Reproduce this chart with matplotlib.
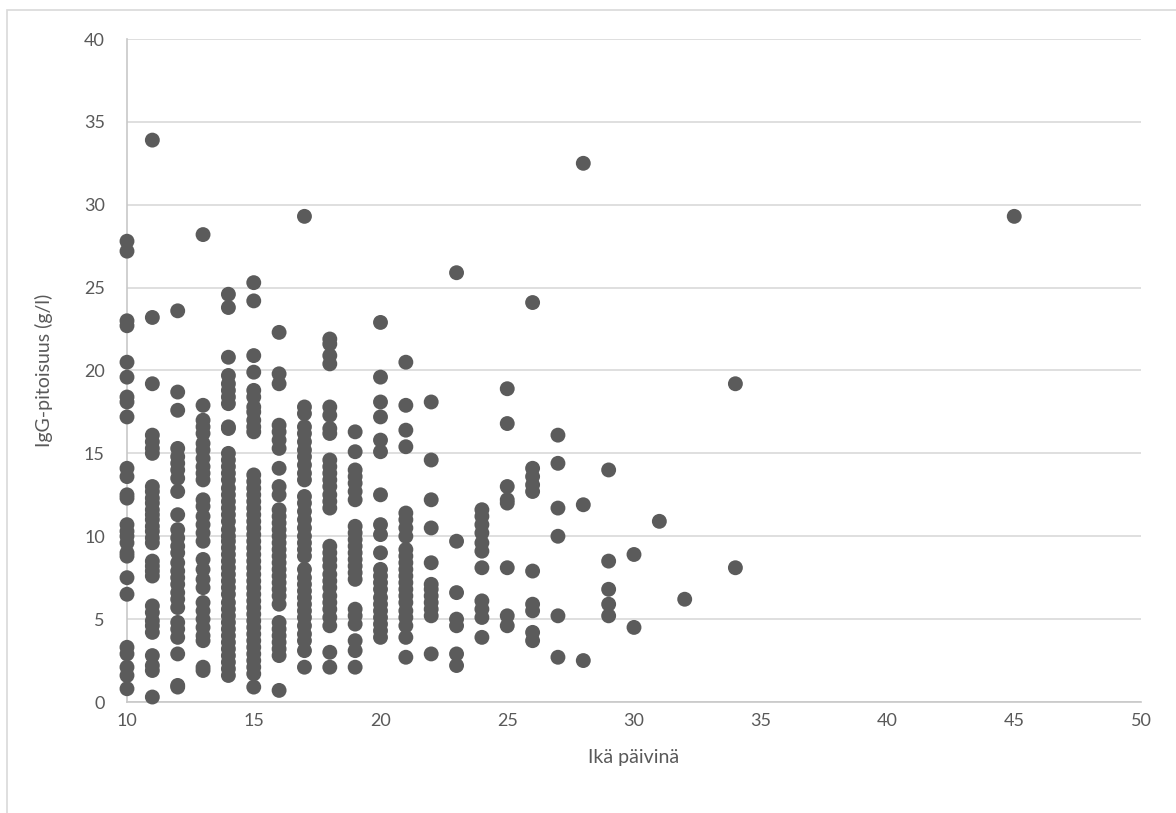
import matplotlib
matplotlib.use("Agg")
import matplotlib.pyplot as plt
from matplotlib.patches import Rectangle

plt.rcParams["font.family"] = ["Lato", "DejaVu Sans"]

# ---- data: IgG concentration (g/l) by age in days ----
igg_10 = [27.8, 27.2, 23.0, 22.7, 20.5, 19.6, 18.4, 18.1, 17.2, 14.1, 13.6, 12.5, 12.3,
          10.7, 10.3, 10.0, 9.6, 9.0, 8.8, 7.5, 6.5, 3.3, 2.9, 2.1, 1.6, 0.8]
igg_11 = [33.9, 23.2, 19.2, 16.1, 15.7, 15.3, 15.0, 13.0, 12.7, 12.3, 12.0, 11.6, 11.3,
          11.0, 10.6, 10.3, 9.9, 9.6, 8.5, 8.2, 7.9, 7.6, 5.8, 5.4, 4.9, 4.6, 4.2,
          2.8, 2.2, 1.9, 0.3]
igg_12 = [23.6, 18.7, 17.6, 15.3, 14.8, 14.4, 14.0, 13.5, 12.7, 11.3, 10.4, 9.9, 9.4,
          9.0, 8.4, 7.9, 7.5, 7.1, 6.6, 6.2, 5.7, 4.8, 4.4, 3.9, 2.9, 1.0, 0.9]
igg_13 = [28.2, 17.9, 17.0, 16.6, 16.2, 15.6, 15.2, 14.7, 14.2, 13.8, 13.4, 12.2, 11.8,
          11.2, 10.7, 10.2, 9.7, 8.6, 8.0, 7.4, 6.9, 6.0, 5.5, 5.0, 4.5, 4.0, 3.7,
          2.1, 1.9]
igg_14 = [24.6, 23.8, 20.8, 19.7, 19.2, 18.8, 18.4, 18.0, 16.6, 16.5, 15.0, 14.6, 14.2,
          13.8, 13.4, 12.9, 12.5, 12.1, 11.7, 11.3, 10.9, 10.4, 10.0, 9.7, 9.3, 8.9,
          8.5, 8.1, 7.7, 7.3, 6.9, 6.5, 6.0, 5.6, 5.2, 4.8, 4.4, 4.0, 3.6, 3.2, 2.8,
          2.4, 2.0, 1.6]
igg_15 = [25.3, 24.2, 20.9, 19.9, 18.8, 18.4, 17.8, 17.5, 17.0, 16.6, 16.3, 13.7, 13.3,
          12.9, 12.5, 12.1, 11.7, 11.3, 10.9, 10.5, 10.1, 9.7, 9.3, 8.9, 8.5, 8.1,
          7.7, 7.3, 6.9, 6.5, 6.1, 5.7, 5.3, 4.9, 4.5, 4.1, 3.7, 3.3, 2.9, 2.5, 2.1,
          1.7, 0.9]
igg_16 = [22.3, 19.8, 19.2, 16.7, 16.3, 15.8, 15.3, 14.1, 13.0, 12.5, 11.6, 11.2, 10.8,
          10.4, 10.0, 9.6, 9.2, 8.8, 8.4, 8.0, 7.6, 7.2, 6.8, 6.4, 5.9, 4.8, 4.4,
          4.0, 3.6, 3.2, 2.8, 0.7]
igg_17 = [29.3, 17.8, 17.4, 16.6, 16.2, 15.7, 15.2, 14.8, 14.3, 13.8, 13.4, 12.4, 12.0,
          11.5, 11.0, 10.5, 10.0, 9.6, 9.2, 8.8, 8.0, 7.5, 7.1, 6.7, 6.3, 5.9, 5.5,
          5.1, 4.6, 4.1, 3.7, 3.1, 2.1]
igg_18 = [21.9, 21.6, 20.9, 20.4, 17.8, 17.3, 16.5, 16.2, 14.6, 14.2, 13.8, 13.4, 13.0,
          12.5, 12.1, 11.7, 9.4, 9.0, 8.6, 8.2, 7.7, 7.3, 6.9, 6.4, 6.0, 5.6, 5.1,
          4.6, 3.0, 2.1]
igg_19 = [16.3, 15.1, 14.0, 13.6, 13.2, 12.7, 12.2, 10.6, 10.2, 9.8, 9.4, 9.0, 8.6,
          8.2, 7.8, 7.4, 5.6, 5.2, 4.7, 3.7, 3.1, 2.1]
igg_20 = [22.9, 19.6, 18.1, 17.2, 15.8, 15.1, 12.5, 10.7, 10.1, 9.0, 8.0, 7.6, 7.2,
          6.8, 6.3, 5.9, 5.5, 5.1, 4.7, 4.3, 3.9]
igg_21 = [20.5, 17.9, 16.4, 15.4, 11.4, 11.0, 10.5, 10.0, 9.2, 8.8, 8.4, 8.0, 7.6,
          7.2, 6.8, 6.4, 6.0, 5.5, 5.1, 4.6, 3.9, 2.7]
igg_22 = [18.1, 14.6, 12.2, 10.5, 8.4, 7.1, 6.8, 6.4, 6.0, 5.6, 5.2, 2.9]
igg_23 = [25.9, 9.7, 6.6, 5.0, 4.6, 2.9, 2.2]
igg_24 = [11.6, 11.2, 10.7, 10.2, 9.6, 9.1, 8.1, 6.1, 5.6, 5.1, 3.9]
igg_25 = [18.9, 16.8, 13.0, 12.2, 12.0, 8.1, 5.2, 4.6]
igg_26 = [24.1, 14.1, 13.6, 13.1, 12.7, 7.9, 5.9, 5.5, 4.2, 3.7]
igg_27 = [16.1, 14.4, 11.7, 10.0, 5.2, 2.7]
igg_28 = [32.5, 11.9, 2.5]
igg_29 = [14.0, 8.5, 6.8, 5.9, 5.2]
igg_30 = [8.9, 4.5]
igg_31 = [10.9]
igg_32 = [6.2]
igg_34 = [19.2, 8.1]
igg_45 = [29.3]

ages = [10, 11, 12, 13, 14, 15, 16, 17, 18, 19, 20, 21, 22, 23, 24, 25, 26, 27,
        28, 29, 30, 31, 32, 34, 45]
groups = [igg_10, igg_11, igg_12, igg_13, igg_14, igg_15, igg_16, igg_17, igg_18,
          igg_19, igg_20, igg_21, igg_22, igg_23, igg_24, igg_25, igg_26, igg_27,
          igg_28, igg_29, igg_30, igg_31, igg_32, igg_34, igg_45]

x_ticks = [10, 15, 20, 25, 30, 35, 40, 45, 50]
y_ticks = [0, 5, 10, 15, 20, 25, 30, 35, 40]
x_label = "Ikä päivinä"
y_label = "IgG-pitoisuus (g/l)"

xs, ys = [], []
for a, g in zip(ages, groups):
    xs.extend([a] * len(g))
    ys.extend(g)

# ---- figure ----
W, H = 1176, 813
fig = plt.figure(figsize=(W / 100, H / 100), dpi=100)
fig.patch.set_facecolor("white")

# chart border (right and bottom edges fall outside the image)
fig.add_artist(Rectangle((7 / W, -0.01), (W + 20) / W, 1 - 10 / H + 0.01,
                         transform=fig.transFigure, fill=False,
                         edgecolor="#d9d9d9", linewidth=1.2, clip_on=False))

ax = fig.add_axes([127 / W, 1 - 702 / H, (1141 - 127) / W, (702 - 39) / H])
ax.set_xlim(10, 50)
ax.set_ylim(0, 40)
ax.set_xticks(x_ticks)
ax.set_yticks(y_ticks)

ax.grid(axis="y", color="#d9d9d9", linewidth=1.2)
ax.set_axisbelow(True)
for s in ["top", "right"]:
    ax.spines[s].set_visible(False)
for s in ["left", "bottom"]:
    ax.spines[s].set_color("#c8c8c8")
    ax.spines[s].set_linewidth(1.2)

ax.tick_params(axis="both", length=0, labelsize=13, labelcolor="#595959")
ax.tick_params(axis="x", pad=8)
ax.tick_params(axis="y", pad=16)

ax.scatter(xs, ys, s=115, color="#5b5b5b", edgecolors="none", zorder=3,
           clip_on=False)

ax.set_xlabel(x_label, fontsize=14, color="#595959", labelpad=14)
ax.set_ylabel(y_label, fontsize=14, color="#595959", labelpad=22)

fig.savefig("out.png", dpi=100)
